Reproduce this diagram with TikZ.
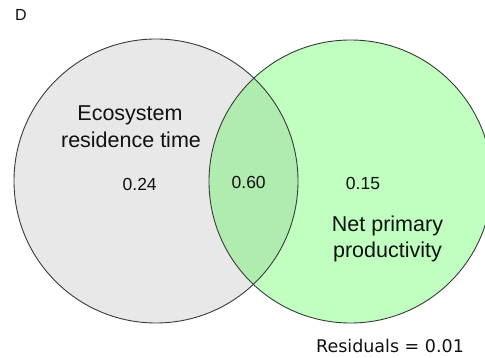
\documentclass[tikz,border=0pt]{standalone}
\usepackage{fontspec}
\setmainfont{Liberation Sans}
\newfontfamily\resfont{DejaVu Sans}
\definecolor{leftfill}{HTML}{E8E8E8}
\definecolor{rightfill}{HTML}{C0FFC0}
\definecolor{overfill}{HTML}{B0EBB0}
\definecolor{edgecol}{HTML}{3A3A3A}
\definecolor{txt}{HTML}{111111}
\begin{document}
\begin{tikzpicture}[x=1pt,y=1pt,
  lbl/.style={anchor=base,inner sep=0pt,text=txt,font=\fontsize{21.5}{26}\selectfont},
  num/.style={anchor=base,inner sep=0pt,text=txt,font=\fontsize{17.5}{21}\selectfont},
  venn/.style={draw=edgecol,line width=0.9pt}]
\useasboundingbox (0,0) rectangle (485,358);
\clip (0,0) rectangle (485,358);
\coordinate (cl) at (156,177);
\coordinate (cr) at (350.5,176.5);
\fill[leftfill] (cl) circle (142);
\fill[rightfill] (cr) circle (141.5);
\begin{scope}
  \clip (cl) circle (142);
  \fill[overfill] (cr) circle (141.5);
\end{scope}
\draw[venn] (cl) circle (142);
\draw[venn] (cr) circle (141.5);
\node[anchor=base,inner sep=0pt,text=txt,font=\fontsize{16}{19}\selectfont] (d) at (21,337.3) {D};
\node[lbl] (e1) at (130,237) {Ecosystem};
\node[lbl] (e2) at (131,210) {residence time};
\node[lbl] (n1) at (387.5,126.3) {Net primary};
\node[lbl] (n2) at (387.5,100) {productivity};
\node[num] (v1) at (139.7,167.3) {0.24};
\node[num] (v2) at (248.7,169.7) {0.60};
\node[num] (v3) at (363,168.2) {0.15};
\node[anchor=base,inner sep=0pt,text=txt,font=\resfont\fontsize{17.5}{21}\selectfont] (res) at (390,5.7) {Residuals = 0.01};
\end{tikzpicture}
\end{document}
